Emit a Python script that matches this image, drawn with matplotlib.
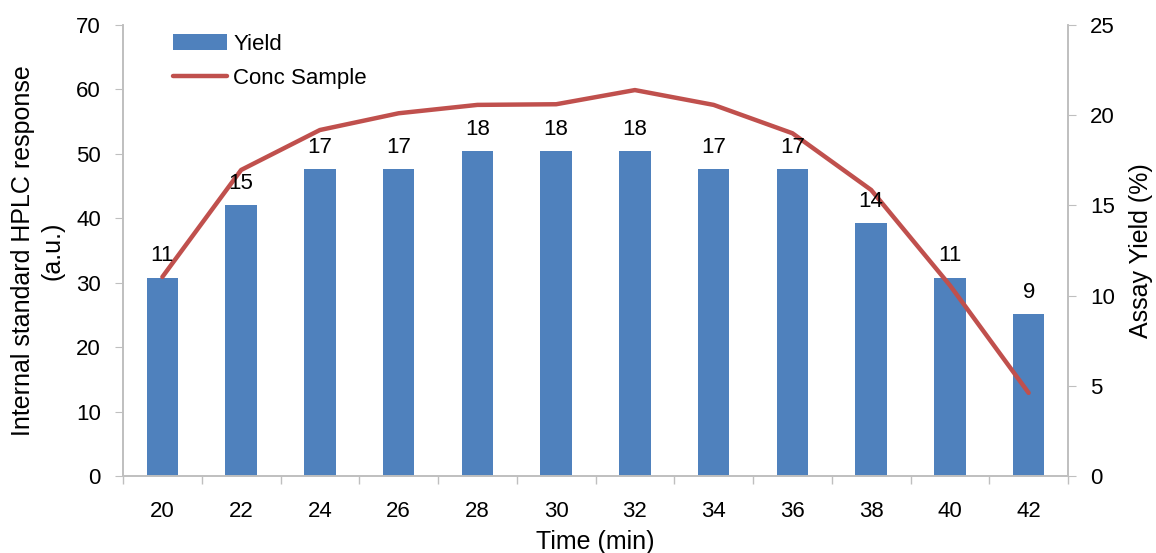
import matplotlib
matplotlib.use("Agg")
import matplotlib.pyplot as plt
import numpy as np

plt.rcParams["font.family"] = ["Liberation Sans", "DejaVu Sans"]

times = [20, 22, 24, 26, 28, 30, 32, 34, 36, 38, 40, 42]
yield_pct = [11, 15, 17, 17, 18, 18, 18, 17, 17, 14, 11, 9]
conc = [30.9, 47.5, 53.7, 56.3, 57.6, 57.7, 59.9, 57.6, 53.2, 44.4, 29.6, 12.9]

BLUE = "#4F81BD"
RED = "#C0504D"
GREY = "#BFBFBF"
FS = 16
LFS = 18

fig = plt.figure(figsize=(11.56, 5.53), dpi=100)
ax = fig.add_axes([0.1064, 0.1392, 0.8175, 0.8156])
ax2 = ax.twinx()
x = np.arange(len(times))

# bars on the right (yield) axis, line on the left axis drawn on top
bars = ax2.bar(x, yield_pct, 0.4, color=BLUE, label="Yield")
line, = ax.plot(x, conc, color=RED, lw=3.2, label="Conc Sample", solid_capstyle="round")
ax.set_zorder(ax2.get_zorder() + 1)
ax.patch.set_visible(False)

for xi, v in zip(x, yield_pct):
    ax.annotate(str(v), (xi, v), xycoords=ax2.transData, xytext=(0, 8),
                textcoords="offset points", ha="center", va="bottom", fontsize=FS)

ax.set_xlim(-0.5, len(times) - 0.5)
ax.set_ylim(0, 70)
ax2.set_ylim(0, 25)
ax.set_yticks(range(0, 71, 10))
ax2.set_yticks(range(0, 26, 5))
ax.set_xticks(x)
ax.set_xticklabels(times)
ax.set_xticks(np.arange(-0.5, len(times)), minor=True)
ax.tick_params(axis="x", which="major", length=0, pad=18, labelsize=FS)
ax.tick_params(axis="x", which="minor", length=6, color=GREY, width=1)
ax.tick_params(axis="y", length=6, color=GREY, labelsize=FS, pad=10)
ax2.tick_params(axis="y", length=6, color=GREY, labelsize=FS, pad=10)

for a in (ax, ax2):
    a.spines["top"].set_visible(False)
    for s in ("left", "right", "bottom"):
        a.spines[s].set_color(GREY)
        a.spines[s].set_linewidth(1.2)

ax.set_xlabel("Time (min)", fontsize=LFS, labelpad=6)
ax.set_ylabel("Internal standard HPLC response\n(a.u.)", fontsize=LFS, labelpad=8,
              linespacing=1.3)
ax2.set_ylabel("Assay Yield (%)", fontsize=LFS, labelpad=10)

ax.legend([bars, line], ["Yield", "Conc Sample"], loc="upper left",
          bbox_to_anchor=(0.032, 1.025), frameon=False, fontsize=FS,
          handlelength=2.4, handletextpad=0.3, labelspacing=0.6)

fig.savefig("out.png", dpi=100)
